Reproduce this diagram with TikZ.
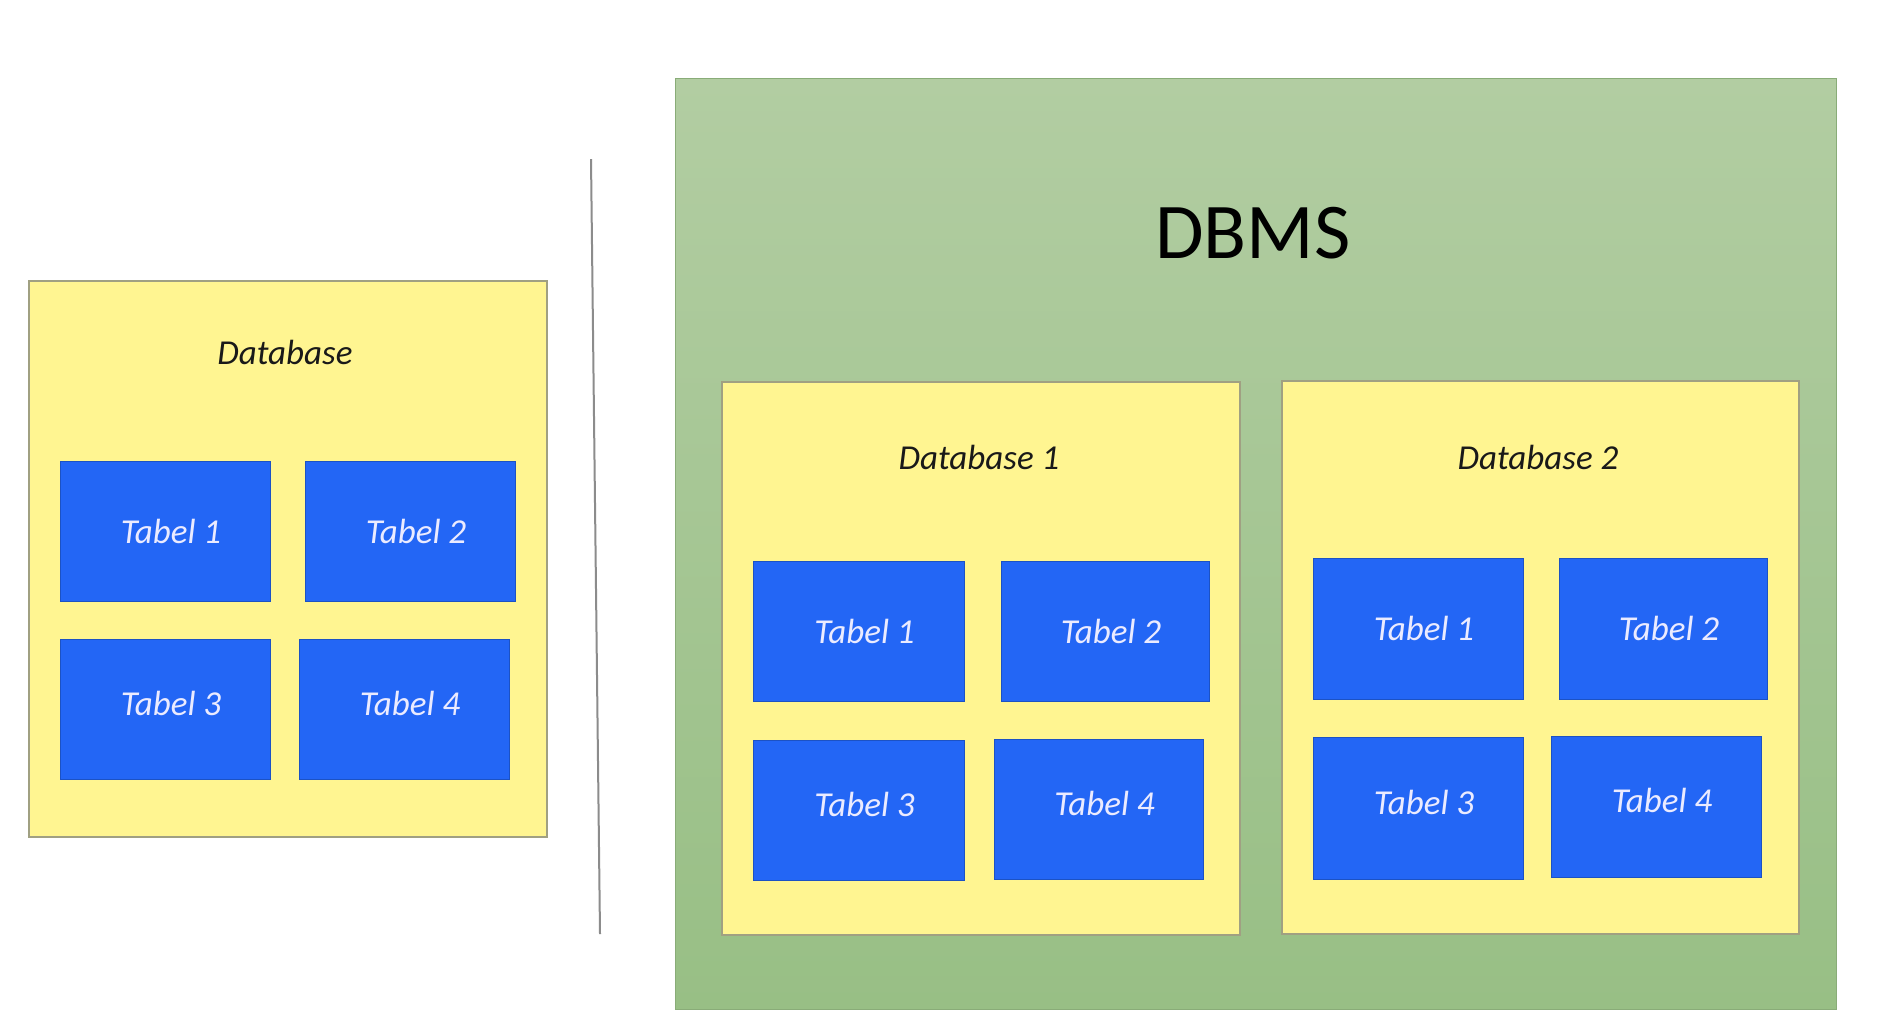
\documentclass[tikz,border=0pt]{standalone}
\usepackage{fontspec}
\setmainfont{Carlito}
\definecolor{dbyellow}{RGB}{255,245,145}
\definecolor{tblblue}{RGB}{35,102,245}
\definecolor{greentop}{RGB}{178,205,162}
\definecolor{greenbot}{RGB}{152,191,133}
\definecolor{ybord}{RGB}{160,160,130}
\definecolor{divider}{RGB}{140,140,140}
\begin{document}
\begin{tikzpicture}[x=0.5pt,y=-0.5pt,
  dbbox/.style={draw=ybord, line width=0.8pt, fill=dbyellow, rectangle, inner sep=0pt, minimum width=518*0.5pt, minimum height=555*0.5pt},
  tbl/.style={fill=tblblue, draw=tblblue!80!black, line width=0.4pt, rectangle, inner sep=0pt, minimum width=210*0.5pt, minimum height=140*0.5pt, text=white!92!blue, font=\fontsize{17.5pt}{20pt}\selectfont\itshape, execute at begin node=\hspace*{6pt}},
  lowrow/.style={text depth=6pt},
  dblabel/.style={font=\fontsize{17.5pt}{20pt}\selectfont\itshape, text=black!90, inner sep=0pt},
  dbmsbox/.style={rectangle, inner sep=0pt, top color=greentop, bottom color=greenbot, draw=greenbot!90!black, line width=0.4pt}
]
\useasboundingbox (0,0) rectangle (1877,1009);
\fill[white] (0,0) rectangle (1877,1009);

% Left single database
\node[dbbox, minimum width=518*0.5pt, minimum height=556*0.5pt] (db) at (288,559) {};
\node[dblabel] (dbl) at (285,352) {Database};
\node[tbl] (t1) at (165,531) {Tabel 1};
\node[tbl] (t2) at (410,531) {Tabel 2};
\node[tbl, lowrow] (t3) at (165,709.5) {Tabel 3};
\node[tbl, lowrow] (t4) at (404,709.5) {Tabel 4};

% divider line
\coordinate (la) at (591,159);
\coordinate (lb) at (600,934);
\draw[divider, line width=1pt] (la) -- (lb);

% DBMS
\node[dbmsbox, minimum width=1161*0.5pt, minimum height=931*0.5pt] (dbms) at (1255.5,543.5) {};
\node[font=\fontsize{39.5pt}{44pt}\selectfont, text=black, inner sep=0pt] (dbmsl) at (1253,233) {DBMS};

% Database 1
\node[dbbox, minimum width=518*0.5pt, minimum height=553*0.5pt] (db1) at (981,658.5) {};
\node[dblabel] (db1l) at (979,457) {Database 1};
\node[tbl, minimum width=211*0.5pt] (a1) at (858.5,631) {Tabel 1};
\node[tbl, minimum width=208*0.5pt] (a2) at (1105,631) {Tabel 2};
\node[tbl, lowrow, minimum width=211*0.5pt] (a3) at (858.5,810) {Tabel 3};
\node[tbl, lowrow, minimum width=209*0.5pt] (a4) at (1098.5,809) {Tabel 4};

% Database 2
\node[dbbox, minimum width=517*0.5pt, minimum height=553*0.5pt] (db2) at (1540.5,657.5) {};
\node[dblabel] (db2l) at (1538,457) {Database 2};
\node[tbl, minimum height=141*0.5pt] (b1) at (1418,628.5) {Tabel 1};
\node[tbl, minimum width=208*0.5pt, minimum height=141*0.5pt] (b2) at (1663,628.5) {Tabel 2};
\node[tbl, lowrow, minimum height=142*0.5pt] (b3) at (1418,808) {Tabel 3};
\node[tbl, lowrow, minimum height=141*0.5pt] (b4) at (1656,806.5) {Tabel 4};
\end{tikzpicture}
\end{document}
